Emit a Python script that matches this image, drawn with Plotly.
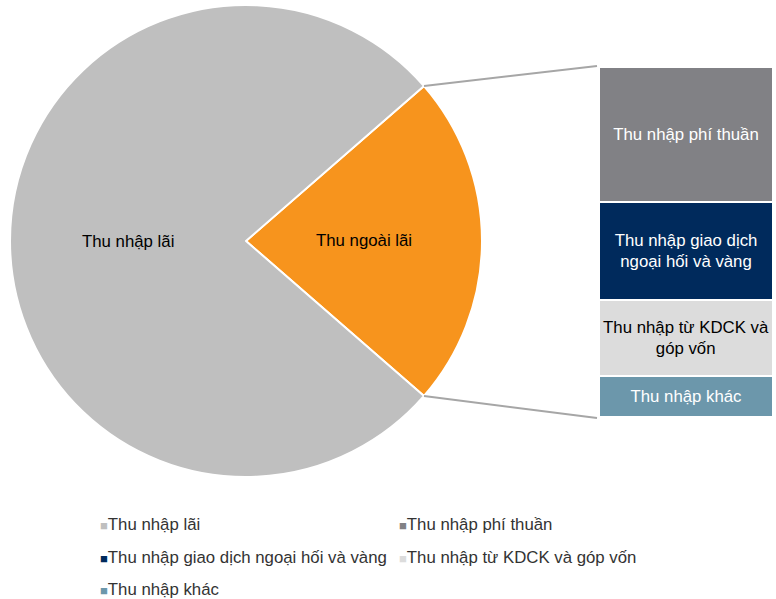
import math
import plotly.graph_objects as go

# ---------------- data ----------------
pie_labels = ["Thu ngoài lãi", "Thu nhập lãi"]
pie_values = [22.8, 77.2]
pie_colors = ["#F7941D", "#BFBFBF"]

bar_labels = ["Thu nhập khác", "Thu nhập từ KDCK và góp vốn",
              "Thu nhập giao dịch ngoại hối và vàng", "Thu nhập phí thuần"]
bar_text = ["Thu nhập khác", "Thu nhập từ KDCK và<br>góp vốn",
            "Thu nhập giao dịch<br>ngoại hối và vàng", "Thu nhập phí thuần"]
bar_values = [2.7, 4.9, 6.4, 8.8]
bar_colors = ["#6C97AB", "#DCDCDC", "#002A5C", "#818185"]
bar_text_colors = ["white", "black", "white", "white"]

legend_rows = [
    [("Thu nhập lãi", "#BFBFBF"), ("Thu nhập phí thuần", "#818185")],
    [("Thu nhập giao dịch ngoại hối và vàng", "#002A5C"), ("Thu nhập từ KDCK và góp vốn", "#DCDCDC")],
    [("Thu nhập khác", "#6C97AB")],
]

# ---------------- layout geometry ----------------
W, H = 776, 599
FONT = "Arial, Liberation Sans, sans-serif"
FS = 16.8
cx, cy, r = 246, 241, 236
pie_dom_x = [(cx - r) / W, (cx + r) / W]
pie_dom_y = [1 - (cy + r) / H, 1 - (cy - r) / H]
bx0, bx1, by0, by1 = 599, 773, 67, 417  # bar pixel box
bar_dom_x = [bx0 / W, bx1 / W]
bar_dom_y = [1 - by1 / H, 1 - by0 / H]

frac = pie_values[0] / sum(pie_values)
span = frac * 360.0
rotation = 90 - span / 2

fig = go.Figure()

fig.add_trace(go.Pie(
    labels=pie_labels, values=pie_values, sort=False, direction="clockwise",
    rotation=rotation,
    marker=dict(colors=pie_colors, line=dict(color="white", width=2)),
    textinfo="none",
    domain=dict(x=pie_dom_x, y=pie_dom_y), showlegend=False, hoverinfo="label+percent",
))

# pie labels at half radius along each slice bisector
start = 90 - span / 2  # clockwise from 12 o'clock
for lab, val in zip(pie_labels, pie_values):
    a = val / sum(pie_values) * 360.0
    mid = math.radians(start + a / 2)
    lx = cx + 0.5 * r * math.sin(mid)
    ly = cy - 0.5 * r * math.cos(mid)
    fig.add_annotation(x=lx / W, y=1 - ly / H, xref="paper", yref="paper",
                       text=lab, showarrow=False, xanchor="center", yanchor="middle",
                       font=dict(family=FONT, size=FS, color="black"))
    start += a

for lab, txt, val, col, tcol in zip(bar_labels, bar_text, bar_values, bar_colors, bar_text_colors):
    fig.add_trace(go.Bar(
        x=[0], y=[val], name=lab, text=[txt], textposition="inside",
        insidetextanchor="middle", textangle=0, constraintext="none",
        textfont=dict(family=FONT, size=FS, color=tcol),
        marker=dict(color=col, line=dict(color="white", width=2)),
        width=1, showlegend=False, hoverinfo="name+y",
    ))

# legend entries (split into rows); the square swatch is drawn inline before the name
for i, row in enumerate(legend_rows):
    lg = "legend" if i == 0 else f"legend{i + 1}"
    for name, col in row:
        fig.add_trace(go.Scatter(
            x=[None], y=[None], mode="lines", legend=lg,
            name=f'<span style="color:{col};font-size:13px">■</span>{name}',
            line=dict(width=0, color="rgba(0,0,0,0)"), showlegend=True,
        ))

# connector lines from the pie slice edge to the bar corners
half = math.radians(span / 2)
ex = cx + r * math.cos(half)
ey_top = cy - r * math.sin(half)
ey_bot = cy + r * math.sin(half)
for (y0, y1) in [(ey_top, by0 - 1), (ey_bot, by1 + 1)]:
    fig.add_shape(type="line", xref="paper", yref="paper",
                  x0=ex / W, y0=1 - y0 / H, x1=(bx0 - 2) / W, y1=1 - y1 / H,
                  line=dict(color="#A6A6A6", width=2))

leg_common = dict(orientation="h", font=dict(family=FONT, size=FS, color="#333333"),
                  bgcolor="rgba(0,0,0,0)", entrywidth=254, entrywidthmode="pixels",
                  itemwidth=30, xanchor="left", yanchor="middle",
                  x=60 / W, traceorder="normal")
row_y = [524, 556.5, 589]

fig.update_layout(
    width=W, height=H, margin=dict(l=0, r=0, t=0, b=0, autoexpand=False),
    paper_bgcolor="white", plot_bgcolor="white", barmode="stack", bargap=0,
    xaxis=dict(domain=bar_dom_x, range=[-0.5, 0.5], visible=False, fixedrange=True),
    yaxis=dict(domain=bar_dom_y, range=[0, sum(bar_values)], visible=False, fixedrange=True),
    legend=dict(**leg_common, y=1 - row_y[0] / H),
    legend2=dict(**leg_common, y=1 - row_y[1] / H),
    legend3=dict(**leg_common, y=1 - row_y[2] / H),
    font=dict(family=FONT),
)

fig.write_html("out.html", config={"displayModeBar": False},
               post_script="document.body.style.margin='0';document.body.style.overflow='hidden';")
